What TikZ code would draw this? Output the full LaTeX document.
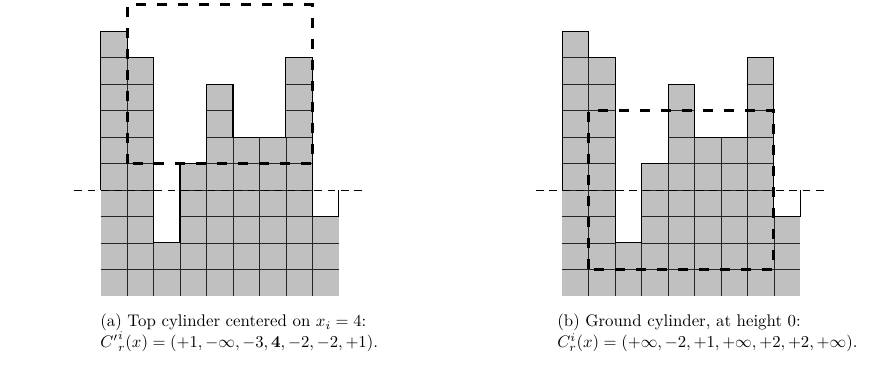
\documentclass[tikz,border=0pt]{standalone}
\definecolor{cellgray}{RGB}{192,192,192}
\tikzset{
  gridline/.style={line width=0.4pt, black!85},
  profile/.style={line width=0.7pt, line join=miter},
  groundline/.style={line width=0.4pt, dash pattern=on 4.6pt off 3.4pt},
  cylbox/.style={line width=1.8pt, dash pattern=on 6pt off 6.6pt},
  captext/.style={anchor=base west, inner sep=0pt, font=\fontsize{10.1}{12}\selectfont},
  terrain/.style={x=15.87pt, y=15.87pt}
}
\newcommand{\terrainfig}{%
  \foreach \h [count=\i] in {6,5,-2,1,4,2,2,5,-1} {
    \fill[cellgray] (\i-1,-4) rectangle (\i,\h);
  }
  \foreach \h [count=\i] in {6,5,-2,1,4,2,2,5,-1} {
    \foreach \k in {-3,...,5} {
      \ifnum\k<\h\relax \draw[gridline] (\i-1,\k) -- (\i,\k); \fi
    }
  }
  \foreach \x/\m in {1/5,2/-2,3/-2,4/1,5/2,6/2,7/2,8/-1} {
    \draw[gridline] (\x,-4) -- (\x,\m);
  }
  \draw[profile] (0,0) -- (0,6) -- (1,6) -- (1,5) -- (2,5) -- (2,-2) -- (3,-2)
    -- (3,1) -- (4,1) -- (4,4) -- (5,4) -- (5,2) -- (7,2) -- (7,5) -- (8,5)
    -- (8,-1) -- (9,-1) -- (9,0);
  \draw[groundline] (-1,0) -- (9.92,0);
}
\begin{document}
\begin{tikzpicture}
  \useasboundingbox (0,0) rectangle (529.2pt,221.4pt);
  % (a) top cylinder
  \begin{scope}[shift={(60.42pt,107.4pt)}, terrain]
    \terrainfig
    \draw[cylbox] (1,1) rectangle (8,7);
  \end{scope}
  % (b) ground cylinder
  \begin{scope}[shift={(337.38pt,107.4pt)}, terrain]
    \terrainfig
    \draw[cylbox] (1,-3) rectangle (8,3);
  \end{scope}
  \node[captext] (capa1) at (60pt,25.2pt) {(a) Top cylinder centered on $x_i = 4$:};
  \node[captext] (capa2) at (60pt,12.8pt) {${C'}^{i}_{r}(x) = (+1, -\infty, -3, \mathbf{4}, -2, -2, +1)$.};
  \node[captext] (capb1) at (334.2pt,25.2pt) {(b) Ground cylinder, at height 0:};
  \node[captext] (capb2) at (334.2pt,12.8pt) {$C^{i}_{r}(x) = (+\infty, -2, +1, +\infty, +2, +2, +\infty)$.};
\end{tikzpicture}
\end{document}
